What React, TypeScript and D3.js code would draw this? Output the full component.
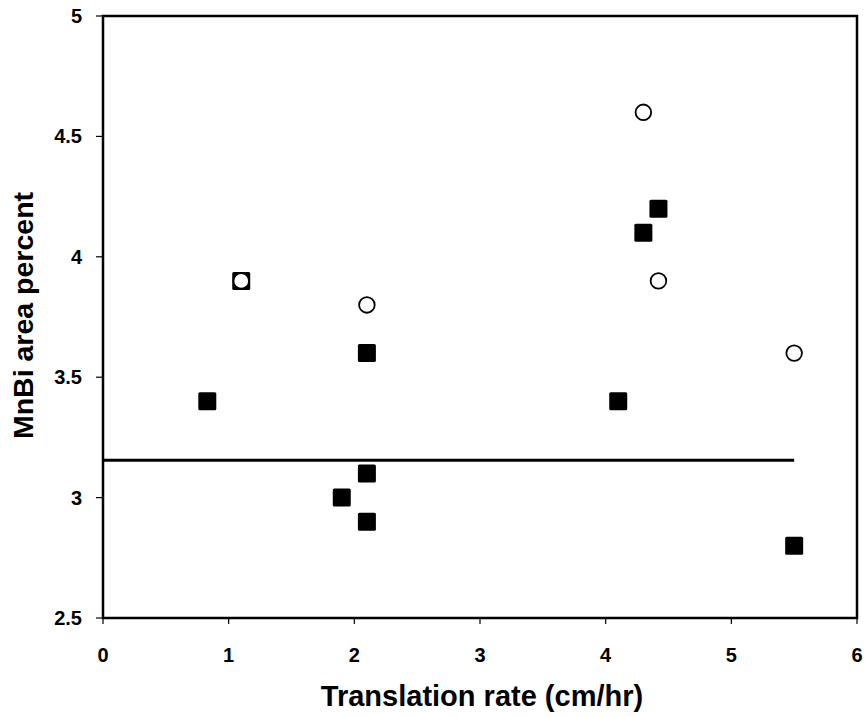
import React from "react";
import * as d3 from "d3";

const squareX = [0.83, 1.1, 2.1, 2.1, 1.9, 2.1, 4.1, 4.3, 4.42, 5.5];
const squareY = [3.4, 3.9, 3.6, 3.1, 3.0, 2.9, 3.4, 4.1, 4.2, 2.8];
const circleX = [1.1, 2.1, 4.3, 4.42, 5.5];
const circleY = [3.9, 3.8, 4.6, 3.9, 3.6];
const lineX = [0, 5.5];
const lineY = [3.155, 3.155];
const xTicks = [0, 1, 2, 3, 4, 5, 6];
const yTicks = [2.5, 3, 3.5, 4, 4.5, 5];

const W = 867, H = 717;
const M = { left: 103, right: 10, top: 16, bottom: 99 };

export default function App() {
  const x = d3.scaleLinear().domain([0, 6]).range([M.left, W - M.right]);
  const y = d3.scaleLinear().domain([2.5, 5]).range([H - M.bottom, M.top]);
  const line = d3.line<number>().x((d) => x(lineX[d])).y((d) => y(lineY[d]));
  const font = "'Liberation Sans', Arial, sans-serif";
  const sq = 18;
  return (
    <svg width={W} height={H} style={{ position: "absolute", left: 0, top: 0, background: "#fff" }}>
      <rect x={x(0)} y={y(5)} width={x(6) - x(0)} height={y(2.5) - y(5)} fill="none" stroke="#000" strokeWidth={2.5} />
      {xTicks.map((t) => (
        <g key={"x" + t}>
          <line x1={x(t)} x2={x(t)} y1={y(2.5)} y2={y(2.5) + 6} stroke="#000" strokeWidth={1.2} />
          <text x={x(t)} y={662} textAnchor="middle" fontFamily={font} fontWeight="bold" fontSize={20}>{t}</text>
        </g>
      ))}
      {yTicks.map((t) => (
        <g key={"y" + t}>
          <line x1={x(0) - 7} x2={x(0)} y1={y(t)} y2={y(t)} stroke="#000" strokeWidth={1.2} />
          <text x={82} y={y(t) + 7} textAnchor="end" fontFamily={font} fontWeight="bold" fontSize={20}>{t}</text>
        </g>
      ))}
      <path d={line([0, 1]) || ""} stroke="#000" strokeWidth={3} fill="none" />
      {squareX.map((v, i) => (
        <rect key={"s" + i} x={x(v) - sq / 2} y={y(squareY[i]) - sq / 2} width={sq} height={sq} rx={1.5} fill="#000" />
      ))}
      {circleX.map((v, i) => (
        <circle key={"c" + i} cx={x(v)} cy={y(circleY[i])} r={7.8} fill="#fff" stroke="#000" strokeWidth={1.8} />
      ))}
      <text x={482} y={706} textAnchor="middle" fontFamily={font} fontWeight="bold" fontSize={29}>Translation rate (cm/hr)</text>
      <text transform={`translate(33,315.5) rotate(-90)`} textAnchor="middle" fontFamily={font} fontWeight="bold" fontSize={28.5}>MnBi area percent</text>
    </svg>
  );
}
